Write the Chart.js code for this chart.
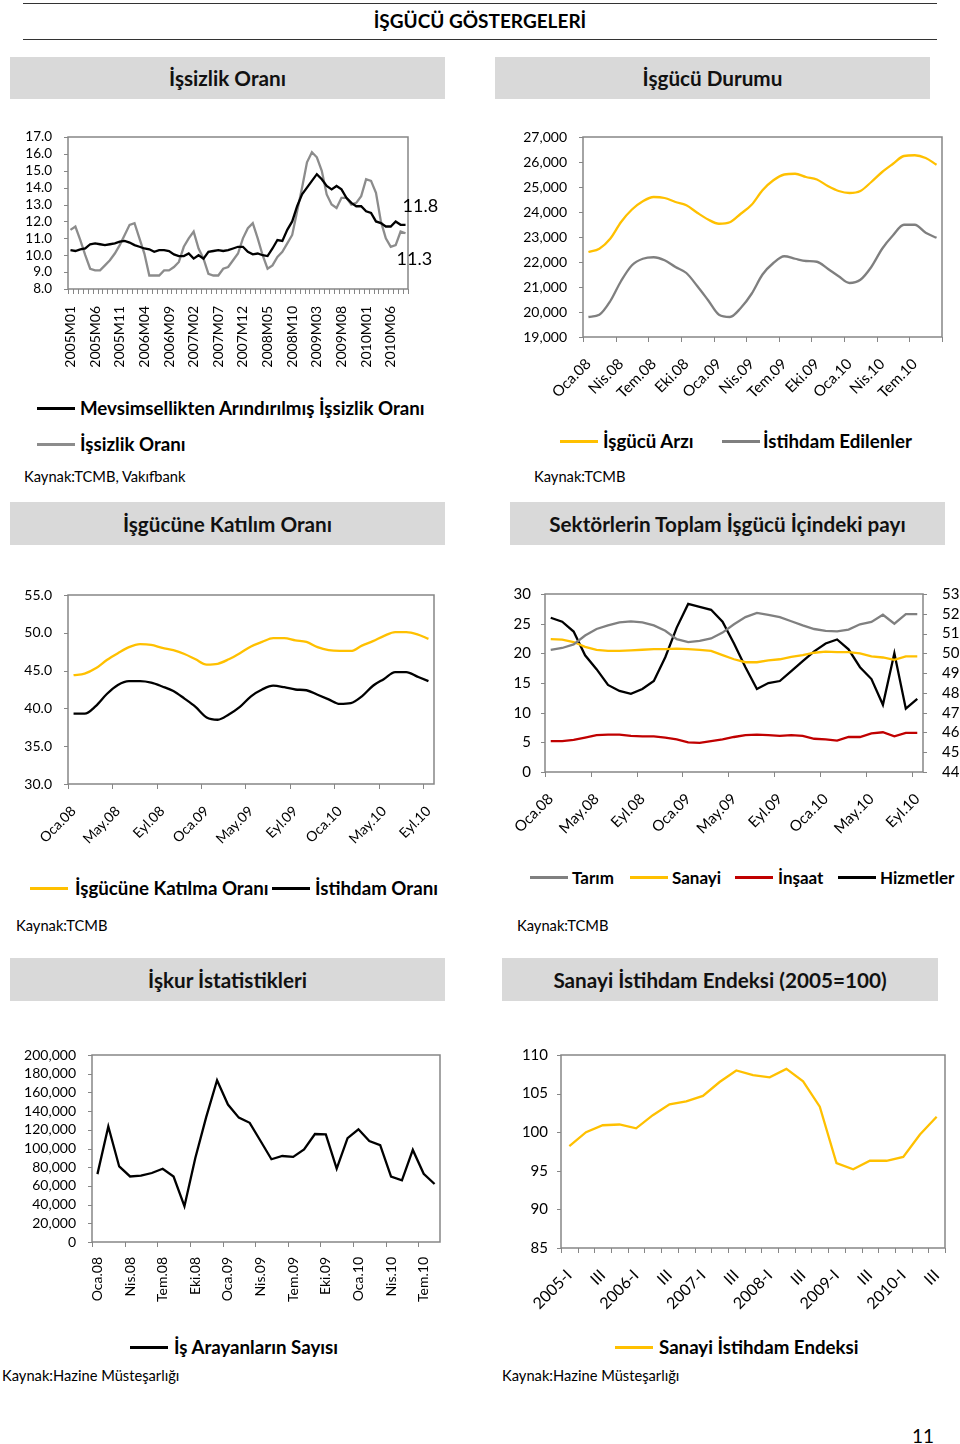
<!DOCTYPE html>
<html>
<head>
<meta charset="utf-8">
<script src="https://cdn.jsdelivr.net/npm/chart.js@4"></script>
<style>
body{margin:0;width:960px;height:1444px;position:relative;background:#fff;font-family:Lato,sans-serif;color:#000;overflow:hidden}
.hdr{position:absolute;background:#d9d9d9;font-weight:bold;font-size:20.7px;display:flex;align-items:center;justify-content:center;color:#111}
.rule{position:absolute;left:23px;width:914px;height:0;border-top:1.5px solid #333}
.txt{position:absolute;white-space:nowrap;transform:translateY(-50%)}
.b{font-weight:bold}
.s{font-size:14.7px}
.ln{position:absolute;width:38px;height:2.5px}
canvas{position:absolute}
</style>
</head>
<body>
<div class="rule" style="top:3px"></div>
<div class="txt" style="left:0;width:960px;text-align:center;top:20px;font-weight:bold;font-size:19px">İŞGÜCÜ GÖSTERGELERİ</div>
<div class="rule" style="top:39px"></div>

<div class="hdr" style="left:10px;top:57px;width:435px;height:42px">İşsizlik Oranı</div>
<div class="hdr" style="left:495px;top:57px;width:435px;height:42px">İşgücü Durumu</div>
<div class="hdr" style="left:10px;top:502px;width:435px;height:43px">İşgücüne Katılım Oranı</div>
<div class="hdr" style="left:510px;top:502px;width:435px;height:43px">Sektörlerin Toplam İşgücü İçindeki payı</div>
<div class="hdr" style="left:10px;top:958px;width:435px;height:43px">İşkur İstatistikleri</div>
<div class="hdr" style="left:502px;top:958px;width:436px;height:43px">Sanayi İstihdam Endeksi (2005=100)</div>

<canvas id="c1"></canvas>
<canvas id="c2"></canvas>
<canvas id="c3"></canvas>
<canvas id="c4"></canvas>
<canvas id="c5"></canvas>
<canvas id="c6"></canvas>

<div id="legends"></div>
<div class="txt" style="left:912px;top:1435px;font-size:19px">11</div>

<script>
// İşsizlik oranı, aylık 2005M01 - 2010M09
let unempTicks = ['2005M01','2005M06','2005M11','2006M04','2006M09','2007M02','2007M07','2007M12','2008M05','2008M10','2009M03','2009M08','2010M01','2010M06']
let unempSA = [10.3,10.25,10.35,10.4,10.65,10.7,10.65,10.6,10.65,10.7,
	10.8,10.85,10.75,10.6,10.5,10.4,10.35,10.2,10.3,10.3,
	10.25,10.05,9.95,9.95,10.1,9.8,10.0,9.8,10.2,10.25,
	10.3,10.25,10.3,10.4,10.5,10.5,10.2,10.05,10.1,10.0,
	9.95,10.4,10.9,10.85,11.5,12.0,12.9,13.6,14.0,14.4,
	14.8,14.5,14.1,13.9,14.1,13.9,13.4,13.1,12.9,12.9,
	12.6,12.5,12.0,11.9,11.7,11.7,12.0,11.8,11.8]
let unemp = [11.5,11.7,10.9,10.0,9.2,9.1,9.1,9.4,9.7,10.1,
	10.6,11.2,11.8,11.9,11.0,10.1,8.8,8.8,8.8,9.1,
	9.1,9.3,9.6,10.5,11.0,11.4,10.4,9.8,8.9,8.8,
	8.8,9.2,9.3,9.7,10.1,11.0,11.6,11.9,11.0,10.0,
	9.2,9.4,9.9,10.2,10.7,11.2,12.6,14.0,15.5,16.1,
	15.8,15.0,13.6,13.0,12.8,13.4,13.4,13.0,13.1,13.5,
	14.5,14.4,13.7,12.0,11.0,10.5,10.6,11.4,11.3]

// İşgücü durumu (bin kişi), Oca.08 - Eyl.10
let laborForce = [22400,22530,22930,23600,24100,24430,24600,24560,24400,24270,23970,23700,23530,23590,23930,24290,24870,25270,25500,25530,25400,25300,25040,24840,24760,24840,25200,25600,25930,26240,26270,26160,25890]
let employed = [19800,19890,20430,21240,21870,22130,22190,22070,21800,21560,21040,20470,19890,19800,20160,20730,21500,21960,22230,22130,22040,22010,21730,21430,21160,21290,21800,22530,23070,23490,23490,23170,22970]

// İşgücüne katılım / istihdam oranı, Oca.08 - Eyl.10
let participation = [44.4,44.6,45.3,46.4,47.3,48.1,48.5,48.4,48.0,47.7,47.2,46.5,45.8,45.9,46.5,47.3,48.2,48.8,49.3,49.3,49.0,48.8,48.1,47.7,47.6,47.6,48.3,48.9,49.6,50.1,50.1,49.8,49.2]
let employmentRate = [39.3,39.3,40.3,41.9,43.1,43.6,43.6,43.4,42.9,42.3,41.3,40.2,38.8,38.5,39.2,40.2,41.6,42.5,43.0,42.8,42.5,42.4,41.8,41.2,40.6,40.7,41.6,43.0,43.9,44.8,44.8,44.2,43.6]

// Sektör payları (%), Oca.08 - Eyl.10; hizmetler sağ eksende
let agriculture = [20.6,20.9,21.5,23.0,24.1,24.7,25.2,25.4,25.2,24.7,23.8,22.4,21.9,22.1,22.5,23.5,24.9,26.1,26.8,26.5,26.1,25.4,24.7,24.1,23.8,23.7,24.0,24.9,25.3,26.5,25.0,26.6,26.6]
let industry = [22.4,22.3,21.9,21.1,20.6,20.4,20.4,20.5,20.6,20.7,20.7,20.8,20.7,20.6,20.4,19.7,19.0,18.5,18.5,18.8,19.0,19.4,19.7,20.1,20.3,20.2,20.2,20.0,19.5,19.3,18.9,19.5,19.5]
let construction = [5.2,5.2,5.4,5.8,6.2,6.3,6.3,6.1,6.0,6.0,5.8,5.5,5.0,4.9,5.2,5.5,5.9,6.2,6.3,6.2,6.1,6.2,6.1,5.6,5.5,5.3,5.9,5.9,6.5,6.7,6.0,6.6,6.6]
let services = [51.8,51.6,51.1,49.9,49.2,48.4,48.1,47.95,48.2,48.6,49.8,51.3,52.5,52.35,52.2,51.6,50.5,49.3,48.2,48.5,48.6,49.1,49.6,50.1,50.5,50.7,50.2,49.3,48.7,47.4,50.0,47.2,47.7]

// İş arayanların sayısı, Oca.08 - Ağu.10
let jobSeekers = [72600,123500,80800,70100,71000,73800,78400,70000,38300,89800,133500,173000,147000,133000,127500,108000,88500,92000,91000,99000,115500,115000,78500,111000,120500,108000,103500,70000,66000,98500,73000,62000]

// Sanayi istihdam endeksi, 2005-I - 2010-III
let quarters = ['2005-I','II','III','IV','2006-I','II','III','IV','2007-I','II','III','IV','2008-I','II','III','IV','2009-I','II','III','IV','2010-I','II','III']
let industryIndex = [98.2,100.0,100.9,101.0,100.5,102.2,103.6,104.0,104.7,106.5,108.0,107.4,107.1,108.2,106.6,103.3,96.0,95.2,96.3,96.3,96.8,99.7,102.0]

let trMonths = ['Oca','Şub','Mar','Nis','May','Haz','Tem','Ağu','Eyl','Eki','Kas','Ara']

function monthLabels(year, count, style) {
	let out = []
	for (let i = 0; i < count; i++) {
		let y = year + Math.floor(i / 12), m = i % 12
		if (style == 'M') out.push(y + 'M' + String(m + 1).padStart(2, '0'))
		else out.push(trMonths[m] + '.' + String(y).slice(2))
	}
	return out
}

Chart.defaults.font.family = 'Lato'
Chart.defaults.color = '#000'
Chart.defaults.animation = false

const AXIS = '#868686'
const HIDE = 'rgba(0,0,0,0)'

// çerçeve ve kısa tik çizgileri (Excel görünümü)
const frame = {
	id: 'frame',
	beforeDatasetsDraw(ch, args, opts) {
		const a = ch.chartArea, g = ch.ctx
		g.save()
		g.strokeStyle = AXIS
		g.lineWidth = 1.5
		g.strokeRect(a.left, a.top, a.right - a.left, a.bottom - a.top)
		g.lineWidth = 1
		g.beginPath()
		const x = ch.scales.x
		for (let i = 0; i <= x.ticks.length; i += opts.step) {
			const px = Math.round(x.getPixelForValue(i - 0.5)) + 0.5
			g.moveTo(px, a.bottom); g.lineTo(px, a.bottom + 5)
		}
		for (const id of ['y', 'y2']) {
			const s = ch.scales[id]
			if (!s) continue
			for (const t of s.ticks) {
				const py = Math.round(s.getPixelForValue(t.value)) + 0.5
				if (id == 'y') { g.moveTo(a.left - 4, py); g.lineTo(a.left, py) }
				else { g.moveTo(a.right, py); g.lineTo(a.right + 4, py) }
			}
		}
		g.stroke()
		g.restore()
	}
}

// son değer etiketleri (11.8 / 11.3)
const lastLabels = {
	id: 'lastLabels',
	afterDatasetsDraw(ch, args, opts) {
		if (!opts.offsets) return
		const g = ch.ctx
		g.save()
		g.font = '18px Lato'
		g.fillStyle = '#000'
		g.textBaseline = 'middle'
		ch.data.datasets.forEach((ds, i) => {
			const pts = ch.getDatasetMeta(i).data
			const p = pts[pts.length - 1]
			const v = ds.data[ds.data.length - 1]
			g.fillText(v.toFixed(1), p.x + opts.offsets[i][0], p.y + opts.offsets[i][1])
		})
		g.restore()
	}
}

function line(label, data, color, extra) {
	return Object.assign({label: label, data: data, borderColor: color, borderWidth: 2.3, pointRadius: 0, fill: false, tension: 0}, extra || {})
}

function makeChart(id, box, plot, o) {
	const c = document.getElementById(id)
	c.width = box[2]; c.height = box[3]
	c.style.left = box[0] + 'px'; c.style.top = box[1] + 'px'
	const right = box[0] + box[2], bottom = box[1] + box[3]
	let scales = {
		x: {
			type: 'category',
			offset: true,
			grid: {display: true, drawOnChartArea: false, tickLength: o.xGap, offset: true, color: HIDE},
			border: {display: false},
			ticks: {autoSkip: false, maxRotation: o.rot, minRotation: o.rot, padding: 0, font: {size: o.xFont},
				callback: function(v, i) { return i % o.labelStep == 0 ? this.getLabelForValue(v) : '' }},
			afterFit: s => { s.height = bottom - plot[3] }
		},
		y: {
			position: 'left',
			min: o.y[0], max: o.y[1],
			grid: {display: true, drawOnChartArea: false, tickLength: o.yGap, color: HIDE},
			border: {display: false},
			ticks: {stepSize: o.y[2], autoSkip: false, padding: 0, font: {size: o.yFont}, callback: o.yFmt},
			afterFit: s => { s.width = plot[0] - box[0] }
		}
	}
	let padRight = right - plot[2]
	if (o.y2) {
		scales.y2 = {
			position: 'right',
			min: o.y2[0], max: o.y2[1],
			grid: {display: true, drawOnChartArea: false, tickLength: o.yGap2, color: HIDE},
			border: {display: false},
			ticks: {stepSize: o.y2[2], autoSkip: false, padding: 0, font: {size: o.yFont}},
			afterFit: s => { s.width = right - plot[2] }
		}
		padRight = 0
	}
	return new Chart(c, {
		type: 'line',
		data: {labels: o.labels, datasets: o.datasets},
		options: {
			responsive: false,
			layout: {padding: {top: plot[1] - box[1], right: padRight, left: 0, bottom: 0}},
			plugins: {legend: {display: false}, tooltip: {enabled: false}, frame: {step: o.tickStep}, lastLabels: o.lastLabels || {}},
			scales: scales
		},
		plugins: [frame, lastLabels]
	})
}

const one = v => v.toFixed(1)
const thousands = v => v.toLocaleString('en-US')

makeChart('c1', [10, 120, 440, 260], [68, 137, 408, 289], {
	labels: monthLabels(2005, unemp.length, 'M'),
	datasets: [
		line('Mevsimsellikten Arındırılmış İşsizlik Oranı', unempSA, '#000000'),
		line('İşsizlik Oranı', unemp, '#8c8c8c')
	],
	tickStep: 1, labelStep: 5, rot: 90, xGap: 17, xFont: 14,
	y: [8, 17, 1], yGap: 16, yFont: 13.5, yFmt: one,
	lastLabels: {offsets: [[-3, -19], [-9, 26]]}
})

makeChart('c2', [505, 125, 445, 285], [583, 137, 942, 337], {
	labels: monthLabels(2008, laborForce.length, 'T'),
	datasets: [
		line('İşgücü Arzı', laborForce, '#FFC000', {cubicInterpolationMode: 'monotone'}),
		line('İstihdam Edilenler', employed, '#7f7f7f', {cubicInterpolationMode: 'monotone'})
	],
	tickStep: 3, labelStep: 3, rot: 45, xGap: 18, xFont: 15,
	y: [19000, 27000, 1000], yGap: 16, yFont: 14, yFmt: thousands
})

makeChart('c3', [10, 582, 440, 265], [68, 595, 434, 784], {
	labels: monthLabels(2008, participation.length, 'T'),
	datasets: [
		line('İşgücüne Katılma Oranı', participation, '#FFC000', {cubicInterpolationMode: 'monotone'}),
		line('İstihdam Oranı', employmentRate, '#000000', {cubicInterpolationMode: 'monotone'})
	],
	tickStep: 4, labelStep: 4, rot: 45, xGap: 19, xFont: 14,
	y: [30, 55, 5], yGap: 16, yFont: 14, yFmt: one
})

makeChart('c4', [500, 582, 460, 265], [545, 594, 923, 772], {
	labels: monthLabels(2008, agriculture.length, 'T'),
	datasets: [
		line('Tarım', agriculture, '#808080'),
		line('Sanayi', industry, '#FFC000'),
		line('İnşaat', construction, '#C00000'),
		line('Hizmetler', services, '#000000', {yAxisID: 'y2'})
	],
	tickStep: 4, labelStep: 4, rot: 45, xGap: 18, xFont: 15,
	y: [0, 30, 5], yGap: 14, yFont: 15,
	y2: [44, 53, 1], yGap2: 19
})

makeChart('c5', [10, 1042, 450, 275], [92, 1055, 440, 1242], {
	labels: monthLabels(2008, jobSeekers.length, 'T'),
	datasets: [line('İş Arayanların Sayısı', jobSeekers, '#000000')],
	tickStep: 3, labelStep: 3, rot: 90, xGap: 15, xFont: 14,
	y: [0, 200000, 20000], yGap: 16, yFont: 14, yFmt: thousands
})

makeChart('c6', [500, 1042, 455, 275], [561, 1055, 945, 1248], {
	labels: quarters,
	datasets: [line('Sanayi İstihdam Endeksi', industryIndex, '#FFC000')],
	tickStep: 1, labelStep: 2, rot: 45, xGap: 18, xFont: 16,
	y: [85, 110, 5], yGap: 13, yFont: 15
})

// lejantlar ve kaynaklar: [çizgi x, orta y, renk, metin x, metin, punto]
let legends = [
	[37, 408, '#000000', 80, 'Mevsimsellikten Arındırılmış İşsizlik Oranı', 18.7],
	[37, 444, '#8c8c8c', 80, 'İşsizlik Oranı', 18.7],
	[560, 441, '#FFC000', 603, 'İşgücü Arzı', 18.7],
	[722, 441, '#7f7f7f', 763, 'İstihdam Edilenler', 18.7],
	[30, 888, '#FFC000', 75, 'İşgücüne Katılma Oranı', 18.7],
	[272, 888, '#000000', 315, 'İstihdam Oranı', 18.7],
	[530, 877, '#808080', 572, 'Tarım', 17],
	[630, 877, '#FFC000', 672, 'Sanayi', 17],
	[735, 877, '#C00000', 778, 'İnşaat', 17],
	[838, 877, '#000000', 880, 'Hizmetler', 17],
	[130, 1347, '#000000', 174, 'İş Arayanların Sayısı', 18.7],
	[615, 1347, '#FFC000', 659, 'Sanayi İstihdam Endeksi', 18.7]
]
let sources = [
	[24, 476, 'Kaynak:TCMB, Vakıfbank'],
	[534, 476, 'Kaynak:TCMB'],
	[16, 925, 'Kaynak:TCMB'],
	[517, 925, 'Kaynak:TCMB'],
	[2, 1375, 'Kaynak:Hazine Müsteşarlığı'],
	[502, 1375, 'Kaynak:Hazine Müsteşarlığı']
]
let root = document.getElementById('legends')
for (let l of legends) {
	let d = document.createElement('div')
	d.className = 'ln'
	d.style.left = l[0] + 'px'; d.style.top = (l[1] - 1) + 'px'; d.style.background = l[2]
	root.appendChild(d)
	let t = document.createElement('div')
	t.className = 'txt b'
	t.style.left = l[3] + 'px'; t.style.top = l[1] + 'px'; t.style.fontSize = l[5] + 'px'
	t.textContent = l[4]
	root.appendChild(t)
}
for (let s of sources) {
	let t = document.createElement('div')
	t.className = 'txt s'
	t.style.left = s[0] + 'px'; t.style.top = s[1] + 'px'
	t.textContent = s[2]
	root.appendChild(t)
}
</script>
</body>
</html>
